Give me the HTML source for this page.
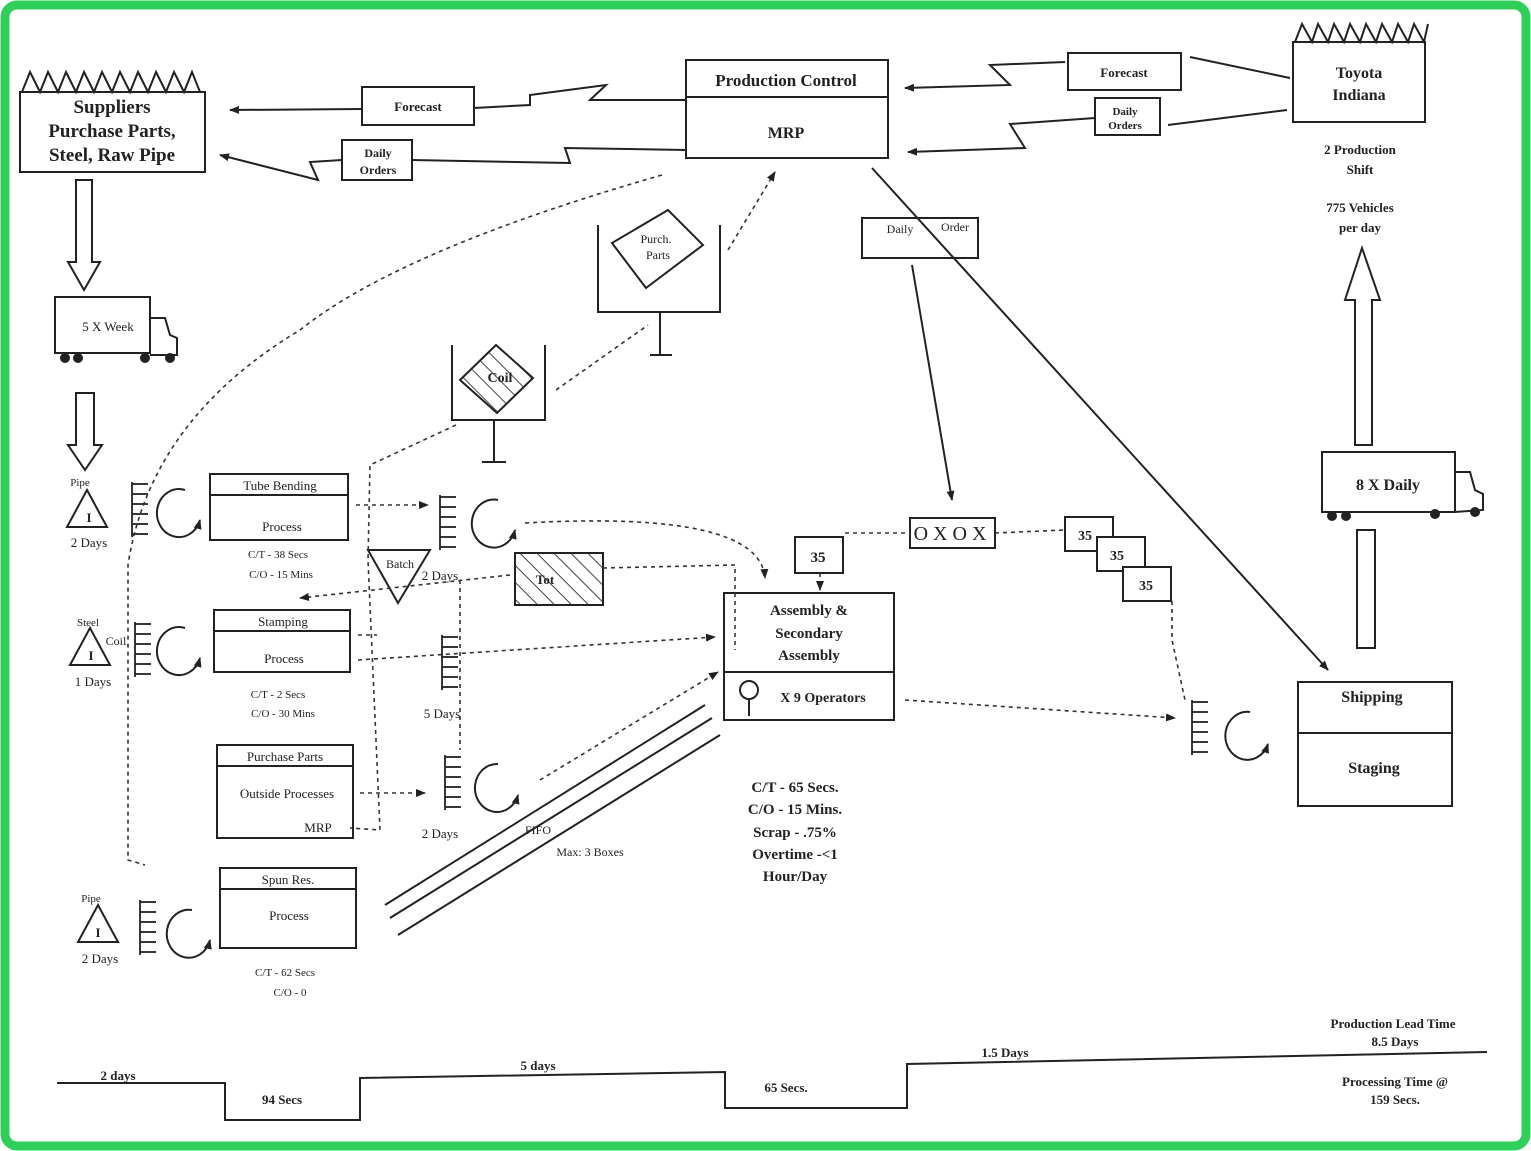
<!DOCTYPE html>
<html><head><meta charset="utf-8"><style>
html,body{margin:0;padding:0;background:#fff}
svg{display:block}
text{font-family:"Liberation Serif",serif;fill:#222}
.b{font-weight:bold}
</style></head><body>
<svg width="1531" height="1151" viewBox="0 0 1531 1151" xmlns="http://www.w3.org/2000/svg">
<defs>
<marker id="a" markerWidth="10" markerHeight="10" refX="9" refY="5" orient="auto" markerUnits="userSpaceOnUse"><path d="M0,1 L10,5 L0,9 Z" fill="#222"/></marker>
<g id="inv" fill="none" stroke="#222" stroke-width="1.8"><line x1="0" y1="0" x2="0" y2="55"/><line x1="0" y1="2" x2="16" y2="2"/><line x1="0" y1="12" x2="16" y2="12"/><line x1="0" y1="22" x2="16" y2="22"/><line x1="0" y1="32" x2="16" y2="32"/><line x1="0" y1="42" x2="16" y2="42"/><line x1="0" y1="52" x2="16" y2="52"/></g>
<pattern id="h" width="12" height="12" patternUnits="userSpaceOnUse" patternTransform="rotate(-45)"><line x1="0" y1="0" x2="0" y2="12" stroke="#444" stroke-width="2"/></pattern>
</defs>
<rect x="5" y="5" width="1521" height="1141" rx="12" fill="#fff" stroke="#2fd05a" stroke-width="9"/>
<g fill="none" stroke="#222" stroke-width="2">
<!-- Suppliers -->
<rect x="20" y="92" width="185" height="80"/>
<polyline points="22,92 30,72 40,92 48,72 58,92 66,72 76,92 84,72 94,92 102,72 112,92 120,72 130,92 138,72 148,92 156,72 166,92 174,72 184,92 192,72 200,92"/>
<rect x="362" y="87" width="112" height="38"/>
<rect x="342" y="140" width="70" height="40"/>
<polyline points="686,100 590,100 606,85 530,95 530,105 474,108"/>
<line x1="362" y1="109" x2="230" y2="110" marker-end="url(#a)"/>
<polyline points="686,150 565,148 570,163 412,160" />
<polyline points="342,160 310,162 318,180 220,155" marker-end="url(#a)"/>
<!-- Production control -->
<rect x="686" y="60" width="202" height="98"/>
<line x1="686" y1="97" x2="888" y2="97"/>
<!-- Toyota -->
<rect x="1293" y="42" width="132" height="80"/>
<polyline points="1295,42 1302,24 1312,42 1318,24 1328,42 1334,24 1344,42 1350,24 1360,42 1366,24 1376,42 1382,24 1392,42 1398,24 1408,42 1414,24 1424,42 1428,24"/>
<rect x="1068" y="53" width="113" height="37"/>
<rect x="1095" y="98" width="65" height="37"/>
<line x1="1190" y1="57" x2="1290" y2="78"/>
<line x1="1168" y1="125" x2="1287" y2="110"/>
<polyline points="1065,62 990,65 1010,85 905,88" marker-end="url(#a)"/>
<polyline points="1095,118 1010,124 1025,148 908,152" marker-end="url(#a)"/>
<!-- daily order -->
<rect x="862" y="218" width="116" height="40"/>
<line x1="872" y1="168" x2="1328" y2="670" marker-end="url(#a)"/>
<line x1="912" y1="265" x2="952" y2="500" marker-end="url(#a)"/>
<!-- trucks -->
<rect x="55" y="297" width="95" height="56"/>
<polyline points="150,318 165,318 170,335 177,338 177,355 150,355"/>
<circle cx="65" cy="358" r="4" fill="#222"/><circle cx="78" cy="358" r="4" fill="#222"/><circle cx="145" cy="358" r="4" fill="#222"/><circle cx="170" cy="358" r="4" fill="#222"/>
<rect x="1322" y="452" width="133" height="60"/>
<polyline points="1455,472 1470,472 1475,490 1483,494 1483,510 1455,512"/>
<circle cx="1332" cy="516" r="4" fill="#222"/><circle cx="1346" cy="516" r="4" fill="#222"/><circle cx="1435" cy="514" r="4" fill="#222"/><circle cx="1475" cy="512" r="4" fill="#222"/>
<!-- hollow arrows -->
<polygon points="76,180 92,180 92,262 100,262 84,290 68,262 76,262"/>
<polygon points="76,393 94,393 94,445 102,445 85,470 68,445 76,445"/>
<polygon points="1355,445 1372,445 1372,300 1380,300 1362,248 1345,300 1355,300"/>
<rect x="1357" y="530" width="18" height="118"/>
<!-- supermarkets / kanbans -->
<polyline points="598,225 598,312 720,312 720,225"/>
<line x1="660" y1="312" x2="660" y2="355"/><line x1="650" y1="355" x2="672" y2="355"/>
<polygon points="612,243 668,210 703,245 646,288"/>
<polyline points="452,345 452,420 545,420 545,345"/>
<line x1="494" y1="420" x2="494" y2="462"/><line x1="482" y1="462" x2="506" y2="462"/>
<polygon points="460,380 496,345 533,378 497,413" fill="url(#h)"/>
<!-- processes -->
<rect x="210" y="474" width="138" height="66"/><line x1="210" y1="495" x2="348" y2="495"/>
<rect x="214" y="610" width="136" height="62"/><line x1="214" y1="631" x2="350" y2="631"/>
<rect x="217" y="745" width="136" height="93"/><line x1="217" y1="766" x2="353" y2="766"/>
<rect x="220" y="868" width="136" height="80"/><line x1="220" y1="889" x2="356" y2="889"/>
<rect x="724" y="593" width="170" height="127"/><line x1="724" y1="672" x2="894" y2="672"/>
<rect x="1298" y="682" width="154" height="124"/><line x1="1298" y1="733" x2="1452" y2="733"/>
<!-- inventory triangles -->
<polygon points="87,490 67,527 107,527"/>
<polygon points="90,628 70,665 110,665"/>
<polygon points="98,905 78,942 118,942"/>
<polygon points="368,550 430,550 398,603"/>
<rect x="515" y="553" width="88" height="52" fill="url(#h)"/>
<!-- circular arrows -->
<path d="M185,490 A22,24 0 1 0 200,520" marker-end="url(#a)"/>
<path d="M185,628 A22,24 0 1 0 200,658" marker-end="url(#a)"/>
<path d="M192,910 A22,24 0 1 0 210,940" marker-end="url(#a)"/>
<path d="M498,500 A22,24 0 1 0 515,530" marker-end="url(#a)"/>
<path d="M498,764 A22,24 0 1 0 518,795" marker-end="url(#a)"/>
<path d="M1250,712 A22,24 0 1 0 1268,744" marker-end="url(#a)"/>
<!-- kanban boxes -->
<rect x="795" y="537" width="48" height="36"/>
<rect x="910" y="518" width="85" height="30"/>
<rect x="1065" y="517" width="48" height="34"/>
<rect x="1097" y="537" width="48" height="34" fill="#fff"/>
<rect x="1123" y="567" width="48" height="34" fill="#fff"/>
<!-- FIFO lines -->
<line x1="385" y1="905" x2="705" y2="705"/><line x1="390" y1="918" x2="712" y2="718"/><line x1="398" y1="935" x2="720" y2="735"/>
<!-- operator -->
<circle cx="749" cy="690" r="9"/><line x1="749" y1="699" x2="749" y2="716"/>
<!-- timeline -->
<polyline points="57,1083 225,1083 225,1120 360,1120 360,1078 725,1072 725,1108 907,1108 907,1064 1487,1052"/>
</g>
<use href="#inv" x="132" y="482"/><use href="#inv" x="135" y="622"/><use href="#inv" x="140" y="900"/>
<use href="#inv" x="440" y="495"/><use href="#inv" x="442" y="635"/><use href="#inv" x="445" y="755"/><use href="#inv" x="1192" y="700"/>
<g fill="none" stroke="#333" stroke-width="1.6" stroke-dasharray="4,4">
<path d="M662,175 Q400,250 300,330 Q150,420 128,565 L128,860 L145,865"/>
<line x1="728" y1="250" x2="775" y2="172" marker-end="url(#a)"/>
<line x1="556" y1="390" x2="648" y2="325"/>
<polyline points="456,425 370,465 368,560 380,830 350,828"/>
<line x1="356" y1="505" x2="428" y2="505" marker-end="url(#a)"/>
<path d="M525,523 Q760,510 765,578" marker-end="url(#a)"/>
<line x1="358" y1="635" x2="377" y2="635"/>
<line x1="358" y1="660" x2="715" y2="637" marker-end="url(#a)"/>
<polyline points="603,568 735,565 735,650"/>
<line x1="510" y1="575" x2="300" y2="598" marker-end="url(#a)"/>
<line x1="360" y1="793" x2="425" y2="793" marker-end="url(#a)"/>
<line x1="540" y1="780" x2="718" y2="672" marker-end="url(#a)"/>
<line x1="845" y1="533" x2="910" y2="533"/>
<line x1="820" y1="573" x2="820" y2="590" marker-end="url(#a)"/>
<line x1="995" y1="533" x2="1065" y2="530"/>
<polyline points="1172,601 1172,640 1185,700"/>
<line x1="905" y1="700" x2="1175" y2="718" marker-end="url(#a)"/>
<line x1="460" y1="580" x2="460" y2="750"/>
</g>
<g text-anchor="middle" class="b">
<text x="112" y="113" font-size="19">Suppliers</text>
<text x="112" y="137" font-size="19">Purchase Parts,</text>
<text x="112" y="161" font-size="19">Steel, Raw Pipe</text>
<text x="418" y="111" font-size="13">Forecast</text>
<text x="378" y="157" font-size="12">Daily</text><text x="378" y="174" font-size="12">Orders</text>
<text x="786" y="86" font-size="17">Production Control</text>
<text x="786" y="138" font-size="16">MRP</text>
<text x="1359" y="78" font-size="16">Toyota</text><text x="1359" y="100" font-size="16">Indiana</text>
<text x="1124" y="77" font-size="13">Forecast</text>
<text x="1125" y="115" font-size="11">Daily</text><text x="1125" y="129" font-size="11">Orders</text>
<text x="1360" y="154" font-size="13">2 Production</text><text x="1360" y="174" font-size="13">Shift</text>
<text x="1360" y="212" font-size="13">775 Vehicles</text><text x="1360" y="232" font-size="13">per day</text>
<text x="1388" y="490" font-size="16">8 X Daily</text>
<text x="1372" y="702" font-size="16">Shipping</text>
<text x="1374" y="773" font-size="16">Staging</text>
<text x="809" y="615" font-size="15">Assembly &amp;</text><text x="809" y="638" font-size="15">Secondary</text><text x="809" y="660" font-size="15">Assembly</text>
<text x="823" y="702" font-size="14">X 9 Operators</text>
<text x="795" y="792" font-size="15">C/T - 65 Secs.</text>
<text x="795" y="814" font-size="15">C/O - 15 Mins.</text>
<text x="795" y="837" font-size="15">Scrap - .75%</text>
<text x="795" y="859" font-size="15">Overtime -&lt;1</text>
<text x="795" y="881" font-size="15">Hour/Day</text>
<text x="818" y="562" font-size="15">35</text>
<text x="1085" y="540" font-size="14">35</text><text x="1117" y="560" font-size="14">35</text><text x="1146" y="590" font-size="14">35</text>
<text x="1393" y="1028" font-size="13">Production Lead Time</text><text x="1395" y="1046" font-size="13">8.5 Days</text>
<text x="1395" y="1086" font-size="13">Processing Time @</text><text x="1395" y="1104" font-size="13">159 Secs.</text>
</g>
<g text-anchor="middle" font-size="13">
<text x="108" y="331">5 X Week</text>
<text x="900" y="233" font-size="12">Daily</text><text x="955" y="231" font-size="12">Order</text>
<text x="656" y="243" font-size="12">Purch.</text><text x="658" y="259" font-size="12">Parts</text>
<text x="500" y="382" class="b" font-size="14">Coil</text>
<text x="280" y="490">Tube Bending</text><text x="282" y="531">Process</text>
<text x="278" y="558" font-size="11">C/T - 38 Secs</text><text x="281" y="578" font-size="11">C/O - 15 Mins</text>
<text x="283" y="626">Stamping</text><text x="284" y="663">Process</text>
<text x="278" y="698" font-size="11">C/T - 2 Secs</text><text x="283" y="717" font-size="11">C/O - 30 Mins</text>
<text x="285" y="761">Purchase Parts</text><text x="287" y="798">Outside Processes</text><text x="318" y="832">MRP</text>
<text x="288" y="884">Spun Res.</text><text x="289" y="920">Process</text>
<text x="285" y="976" font-size="11">C/T - 62 Secs</text><text x="290" y="996" font-size="11">C/O - 0</text>
<text x="80" y="486" font-size="11">Pipe</text><text x="89" y="522" class="b">I</text><text x="89" y="547">2 Days</text>
<text x="88" y="626" font-size="11">Steel</text><text x="116" y="645" font-size="12">Coil</text><text x="91" y="660" class="b">I</text><text x="93" y="686">1 Days</text>
<text x="91" y="902" font-size="11">Pipe</text><text x="98" y="937" class="b">I</text><text x="100" y="963">2 Days</text>
<text x="400" y="568" font-size="12">Batch</text><text x="440" y="580">2 Days</text>
<text x="545" y="584" class="b">Tot</text>
<text x="442" y="718">5 Days</text>
<text x="440" y="838">2 Days</text>
<text x="538" y="834" font-size="12">FIFO</text><text x="590" y="856" font-size="12">Max: 3 Boxes</text>
<text x="950" y="540" font-size="20">O X O X</text>
<text x="118" y="1080" class="b">2 days</text>
<text x="282" y="1104" class="b">94 Secs</text>
<text x="538" y="1070" class="b">5 days</text>
<text x="786" y="1092" class="b">65 Secs.</text>
<text x="1005" y="1057" class="b">1.5 Days</text>
</g>
</svg>
</body></html>
